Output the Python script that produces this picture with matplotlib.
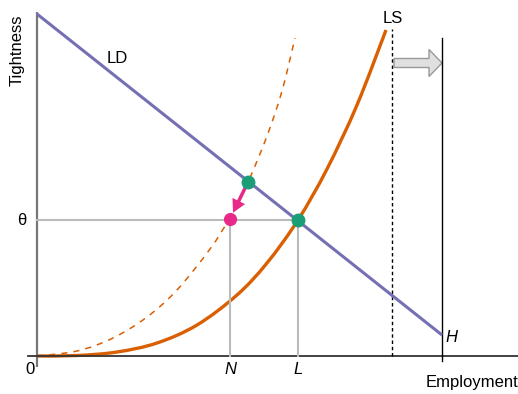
import matplotlib
matplotlib.use("Agg")
import matplotlib.pyplot as plt
import numpy as np
from matplotlib.path import Path
from matplotlib.patches import PathPatch, FancyArrow

plt.rcParams["font.family"] = ["Liberation Sans", "DejaVu Sans"]

# ------------------------------------------------------------------
# values (employment, tightness)
# ------------------------------------------------------------------
ld_x = [0, 405]
ld_y = [342, 21]

ls_x = [0, 40, 80, 120, 160, 200, 230, 261, 290, 320, 349]
ls_y = [0, 0.5, 4, 13, 31, 61, 93, 136, 187, 251, 326]

ls2_x = [0, 40, 76, 110, 140, 173, 192, 211, 230, 245, 258]
ls2_y = [0, 5, 18, 39, 66, 107, 137, 174, 220, 265, 318]

theta = 136
N = 193
L = 261
H = 405
ls_max = 355          # dashed vertical line
old_eq = (211, 174)   # green point on LD / shifted LS
new_eq = (193, 137)   # pink point
eq = (261, 136)       # green point LD / LS

purple = "#7570b3"
orange = "#d95f02"
green = "#1b9e77"
pink = "#e7298a"
grey = "#bbbbbb"


def smooth_path(xs, ys):
    # catmull-rom through the read points, drawn as bezier segments
    p = np.column_stack([xs, ys]).astype(float)
    verts = [p[0]]
    codes = [Path.MOVETO]
    for i in range(len(p) - 1):
        p0 = p[i - 1] if i > 0 else p[i]
        p1, p2 = p[i], p[i + 1]
        p3 = p[i + 2] if i + 2 < len(p) else p[i + 1]
        verts += [p1 + (p2 - p0) / 6, p2 - (p3 - p1) / 6, p2]
        codes += [Path.CURVE4] * 3
    return Path(verts, codes)


fig = plt.figure(figsize=(5.18, 3.94), dpi=100)
ax = fig.add_axes([0, 0, 1, 1])
ax.set_xlim(-37, 481)
ax.set_ylim(-38, 356)
ax.axis("off")

# axes
ax.plot([0, 0], [-11, 344], color="#777777", lw=1.6, solid_capstyle="butt")
ax.plot([-9, 481], [0, 0], color="#333333", lw=1.3)

# guide lines
ax.plot([0, L], [theta, theta], color=grey, lw=1.5)
ax.plot([N, N], [0, new_eq[1]], color=grey, lw=1.5)
ax.plot([L, L], [0, theta], color=grey, lw=1.5)

# vertical lines
ax.plot([ls_max, ls_max], [0, 327], color="black", lw=1, ls=(0, (2.5, 2)))
ax.plot([H, H], [-5, 318], color="black", lw=1)

# curves
ax.plot(ld_x, ld_y, color=purple, lw=2.2, solid_capstyle="butt")
ax.add_patch(PathPatch(smooth_path(ls2_x, ls2_y), fill=False, edgecolor=orange,
                       lw=1.1, ls=(0, (4, 4))))
ax.add_patch(PathPatch(smooth_path(ls_x, ls_y), fill=False, edgecolor=orange, lw=2.4))

# shift arrow
ax.add_patch(FancyArrow(357, 293, 35, 0, width=9, head_width=27, head_length=13,
                        length_includes_head=False, facecolor="#e0e0e0",
                        edgecolor="#999999", lw=1))

# movement arrow from old to new equilibrium
d = np.subtract(new_eq, old_eq).astype(float)
u = d / np.hypot(*d)
start = np.array(old_eq) + 5 * u
end = np.array(new_eq) - 7 * u
ax.add_patch(FancyArrow(start[0], start[1], *(end - start), width=3.5,
                        head_width=14, head_length=13, length_includes_head=True,
                        color=pink, lw=0, zorder=4))

ax.plot(*eq, "o", color=green, ms=9, zorder=5)
ax.plot(*old_eq, "o", color=green, ms=9, zorder=5)
ax.plot(*new_eq, "o", color=pink, ms=8.5, zorder=5)

# labels
ax.text(356, 338, "LS", fontsize=12, ha="center", va="center")
ax.text(80, 298, "LD", fontsize=12, ha="center", va="center")
ax.text(-15, theta, "θ", fontsize=12, ha="center", va="center")
ax.text(-7, -13, "0", fontsize=12, ha="center", va="center")
ax.text(N, -13, "N", fontsize=12, ha="center", va="center", style="italic")
ax.text(L, -13, "L", fontsize=12, ha="center", va="center", style="italic")
ax.text(408, 19, "H", fontsize=12, ha="left", va="center", style="italic")
ax.text(481, -27, "Employment", fontsize=12, ha="right", va="center")
ax.text(-20, 306, "Tightness", fontsize=12, ha="center", va="center", rotation=90)

plt.savefig("out.png", dpi=100)
